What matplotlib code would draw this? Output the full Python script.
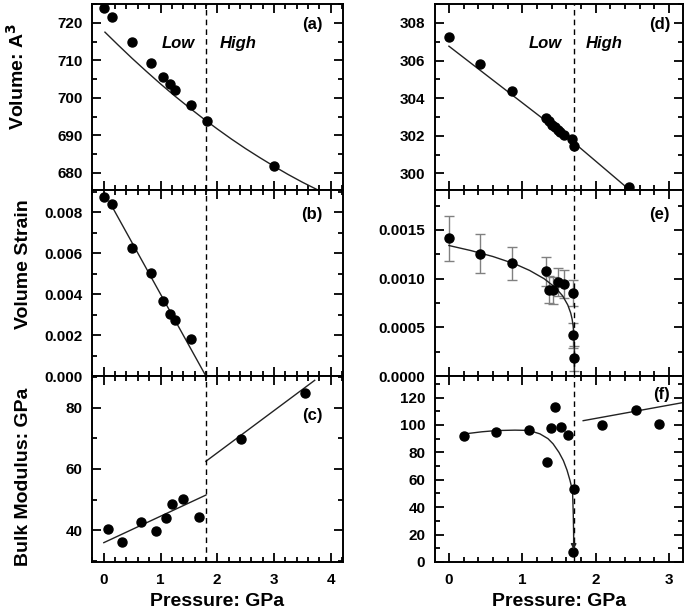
import numpy as np
import matplotlib
matplotlib.use("Agg")
import matplotlib.pyplot as plt
from matplotlib.ticker import MultipleLocator, FormatStrFormatter

plt.rcParams['font.family'] = ['Liberation Sans', 'DejaVu Sans']
plt.rcParams['font.weight'] = 'bold'

# left column: data
pa = [0.0, 0.15, 0.49, 0.83, 1.04, 1.17, 1.26, 1.54, 1.82, 3.01]
va = [724.0, 721.5, 714.8, 709.2, 705.6, 703.6, 702.0, 698.0, 693.7, 681.7]
pa_fit = [0.02, 0.25, 0.5, 0.75, 1.0, 1.25, 1.5, 1.75, 2.0, 2.25, 2.5, 2.75, 3.0, 3.25, 3.5, 3.79]
va_fit = [717.5, 714.1, 710.5, 707.05, 703.7, 700.5, 697.45, 694.5, 691.7, 689.0, 686.45,
          684.05, 681.75, 679.55, 677.5, 675.3]

pb = [0.0, 0.15, 0.49, 0.83, 1.04, 1.16, 1.25, 1.54]
sb = [0.00874, 0.00838, 0.00626, 0.00501, 0.00364, 0.00302, 0.00275, 0.00181]
pb_fit = [0.12, 1.8]
sb_fit = [0.0084, 0.0]

pc = [0.07, 0.32, 0.65, 0.92, 1.09, 1.20, 1.40, 1.68, 2.42, 3.55]
kc = [40.3, 36.3, 42.8, 39.9, 44.0, 48.5, 50.1, 44.2, 69.8, 84.7]
pc_low, kc_low = [0.0, 1.8], [36.0, 51.5]
pc_high, kc_high = [1.8, 3.72], [62.5, 88.9]

# right column
pd_ = [0.0, 0.42, 0.86, 1.32, 1.36, 1.40, 1.45, 1.49, 1.52, 1.57, 1.68, 1.71, 2.45]
vd = [307.25, 305.8, 304.4, 302.95, 302.8, 302.6, 302.45, 302.3, 302.2, 302.05, 301.84, 301.48, 299.27]
pd_fit = [0.0, 1.70, 2.47]
vd_fit = [306.76, 301.65, 299.1]

pe = [0.0, 0.42, 0.86, 1.32, 1.36, 1.42, 1.49, 1.57, 1.69, 1.69, 1.70]
se = [0.001414, 0.001254, 0.001159, 0.001074, 0.000887, 0.000880, 0.000965, 0.000944, 0.000852, 0.000419, 0.000181]
se_err = [0.00023, 0.0002, 0.00017, 0.00015, 0.00014, 0.00014, 0.00014, 0.00014, 0.00013, 0.00013, 0.00013]
pe_fit = [0.0, 0.3, 0.6, 0.9, 1.1, 1.3, 1.45, 1.55, 1.62, 1.66, 1.68, 1.695, 1.705, 1.71, 1.71]
se_fit = [0.00134, 0.001288, 0.001227, 0.001151, 0.001084, 0.000998, 0.000909, 0.000823,
          0.00073, 0.000647, 0.000582, 0.000505, 0.000403, 0.0003, 0.00005]

pf = [0.21, 0.64, 1.09, 1.34, 1.39, 1.45, 1.53, 1.62, 1.70, 1.69, 2.08, 2.55, 2.87]
kf = [91.7, 94.6, 96.4, 72.9, 97.5, 113.3, 98.8, 93.0, 52.9, 7.0, 100.0, 111.1, 100.7]
pf_fit = [0.22, 0.45, 0.65, 0.9, 1.09, 1.24, 1.35, 1.42, 1.50, 1.56, 1.61, 1.65, 1.685, 1.695, 1.70]
kf_fit = [93.5, 95.0, 95.9, 96.2, 96.0, 93.5, 90.0, 86.2, 80.0, 74.0, 67.0, 59.6, 52.0, 35.0, 20.0]
pf_high, kf_high = [1.83, 3.2], [103.1, 116.4]

p_left = 1.8
p_right = 1.70

fig = plt.figure(figsize=(6.85, 6.1), dpi=100)
top, bot = 0.9934, 0.0787
h = (top - bot) / 3.0
lx, lw = 0.135, 0.365
rx, rw = 0.635, 0.362

axa = fig.add_axes([lx, bot + 2*h, lw, h])
axb = fig.add_axes([lx, bot + h, lw, h])
axc = fig.add_axes([lx, bot, lw, h])
axd = fig.add_axes([rx, bot + 2*h, rw, h])
axe = fig.add_axes([rx, bot + h, rw, h])
axf = fig.add_axes([rx, bot, rw, h])

ms = 6.5
lc = '#222222'

def style(ax, ymaj, ymin, left):
    if left:
        ax.set_xlim(-0.2, 4.21)
    else:
        ax.set_xlim(-0.19, 3.19)
    ax.xaxis.set_major_locator(MultipleLocator(1))
    ax.xaxis.set_minor_locator(MultipleLocator(0.2))
    ax.yaxis.set_major_locator(MultipleLocator(ymaj))
    ax.yaxis.set_minor_locator(MultipleLocator(ymin))
    ax.tick_params(which='both', direction='in', top=True, right=True, width=1.3, labelsize=11)
    ax.tick_params(which='major', length=6.5)
    ax.tick_params(which='minor', length=3.5)
    ax.tick_params(axis='y', pad=7)
    ax.tick_params(axis='x', pad=8)
    for s in ax.spines.values():
        s.set_linewidth(1.4)
    for lab in ax.get_xticklabels() + ax.get_yticklabels():
        lab.set_fontweight('bold')

# (a)
axa.plot(pa_fit, va_fit, '-', color=lc, lw=1)
axa.plot(pa, va, 'o', color='k', ms=ms)
axa.set_ylim(675.4, 725.0)
style(axa, 10, 5, True)
axa.set_ylabel('Volume: A$^\\mathbf{3}$', fontsize=14, fontweight='bold')
axa.yaxis.set_label_coords(-0.26, 0.61)
axa.text(1.61, 0.79, 'Low', transform=axa.get_xaxis_transform(), ha='right', va='center',
         fontsize=12, fontweight='bold', style='italic')
axa.text(2.05, 0.79, 'High', transform=axa.get_xaxis_transform(), ha='left', va='center',
         fontsize=12, fontweight='bold', style='italic')
axa.text(0.92, 0.89, '(a)', transform=axa.transAxes, ha='right', va='center', fontsize=12, fontweight='bold')

# (b)
axb.plot(pb_fit, sb_fit, '-', color=lc, lw=1)
axb.plot(pb, sb, 'o', color='k', ms=ms)
axb.set_ylim(0, 0.00908)
style(axb, 0.002, 0.001, True)
axb.yaxis.set_major_formatter(FormatStrFormatter('%.3f'))
axb.set_ylabel('Volume Strain', fontsize=14, fontweight='bold')
axb.yaxis.set_label_coords(-0.241, 0.6)
axb.text(0.92, 0.866, '(b)', transform=axb.transAxes, ha='right', va='center', fontsize=12, fontweight='bold')

# (c)
axc.plot(pc_low, kc_low, '-', color=lc, lw=1)
axc.plot(pc_high, kc_high, '-', color=lc, lw=1)
axc.plot(pc, kc, 'o', color='k', ms=ms)
axc.set_ylim(29.7, 90.3)
style(axc, 20, 10, True)
axc.set_yticks([40, 60, 80])
axc.set_ylabel('Bulk Modulus: GPa', fontsize=14, fontweight='bold')
axc.yaxis.set_label_coords(-0.241, 0.46)
axc.set_xlabel('Pressure: GPa', fontsize=14, fontweight='bold')
axc.xaxis.set_label_coords(0.5, -0.165)
axc.text(0.92, 0.786, '(c)', transform=axc.transAxes, ha='right', va='center', fontsize=12, fontweight='bold')

# (d)
axd.plot(pd_fit, vd_fit, '-', color=lc, lw=1)
axd.plot(pd_, vd, 'o', color='k', ms=ms)
axd.set_ylim(299.12, 309.0)
style(axd, 2, 1, False)
axd.text(1.54, 0.79, 'Low', transform=axd.get_xaxis_transform(), ha='right', va='center',
         fontsize=12, fontweight='bold', style='italic')
axd.text(1.86, 0.79, 'High', transform=axd.get_xaxis_transform(), ha='left', va='center',
         fontsize=12, fontweight='bold', style='italic')
axd.text(0.948, 0.89, '(d)', transform=axd.transAxes, ha='right', va='center', fontsize=12, fontweight='bold')

# (e)
axe.errorbar(pe, se, yerr=se_err, fmt='none', ecolor='#808080', elinewidth=1, capsize=3.5, capthick=1)
axe.plot(pe_fit, se_fit, '-', color=lc, lw=1)
axe.plot(pe, se, 'o', color='k', ms=ms)
axe.set_ylim(0, 0.00191)
style(axe, 0.0005, 0.00025, False)
axe.yaxis.set_major_formatter(FormatStrFormatter('%.4f'))
axe.text(0.948, 0.866, '(e)', transform=axe.transAxes, ha='right', va='center', fontsize=12, fontweight='bold')

# (f)
axf.plot(pf_fit, kf_fit, '-', color=lc, lw=1)
axf.annotate('', xy=(pf_fit[-1], 9), xytext=(pf_fit[-1], kf_fit[-1]),
             arrowprops=dict(arrowstyle='-|>', color=lc, lw=1, mutation_scale=8, shrinkA=0, shrinkB=0))
axf.plot(pf_high, kf_high, '-', color=lc, lw=1)
axf.plot(pf, kf, 'o', color='k', ms=ms)
axf.set_ylim(0, 135.7)
style(axf, 20, 10, False)
axf.set_xlabel('Pressure: GPa', fontsize=14, fontweight='bold')
axf.xaxis.set_label_coords(0.5, -0.165)
axf.text(0.948, 0.9, '(f)', transform=axf.transAxes, ha='right', va='center', fontsize=12, fontweight='bold')

for ax in (axa, axb):
    ax.tick_params(labelbottom=False)
for ax in (axd, axe):
    ax.tick_params(labelbottom=False)

for ax in (axa, axb, axc):
    ax.axvline(p_left, color='k', ls=(0, (4, 3)), lw=1)
for ax in (axd, axe, axf):
    ax.axvline(p_right, color='k', ls=(0, (4, 3)), lw=1)

fig.savefig('out.png', dpi=100)
